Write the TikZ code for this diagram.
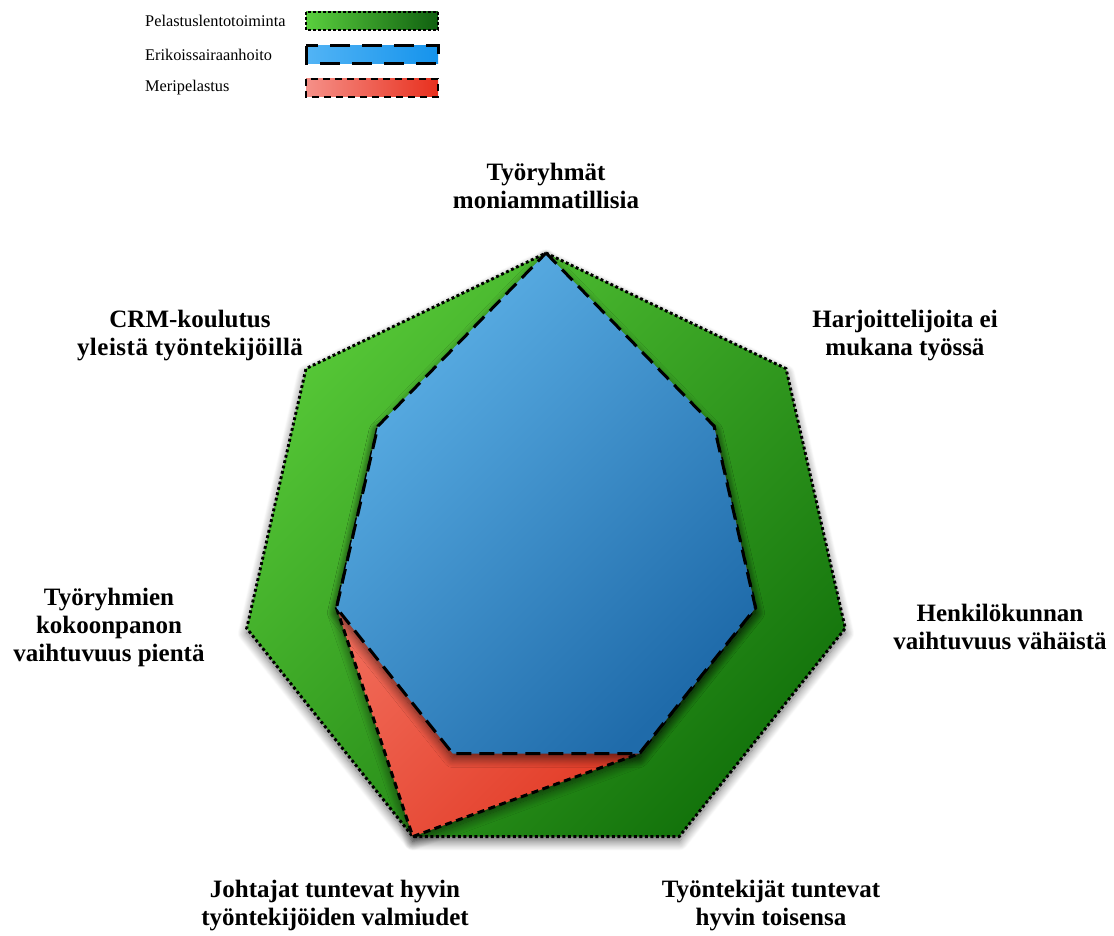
\documentclass[tikz,border=0pt]{standalone}
\usepackage{fontspec}
\setmainfont{Liberation Serif}
\usetikzlibrary{shadows.blur,calc}
\definecolor{gLight}{HTML}{55C636}
\definecolor{gDark}{HTML}{14740C}
\definecolor{bLight}{HTML}{5CB0E6}
\definecolor{bDark}{HTML}{1F6BAA}
\definecolor{rLight}{HTML}{F7806F}
\definecolor{rDark}{HTML}{E0341F}
\definecolor{lgLight}{HTML}{5ACF3E}
\definecolor{lgDark}{HTML}{106010}
\definecolor{lbLight}{HTML}{52B4F5}
\definecolor{lbDark}{HTML}{1593EC}
\definecolor{lrLight}{HTML}{F59088}
\definecolor{lrDark}{HTML}{E8301E}
\begin{document}
\begin{tikzpicture}[x=1pt,y=1pt,
  lbl/.style={font=\fontsize{25}{28}\selectfont\bfseries, align=center, inner sep=0pt},
  legtxt/.style={font=\fontsize{16.3}{19}\selectfont, anchor=west, inner sep=0pt},
  dotline/.style={draw=black, line width=2.9pt, dash pattern=on 2.9pt off 2.6pt},
  longdash/.style={draw=black, line width=3pt, dash pattern=on 15pt off 8pt},
  shortdash/.style={draw=black, line width=3pt, dash pattern=on 7pt off 4.5pt},
  shad/.style={blur shadow={shadow xshift=0pt, shadow yshift=-5pt, shadow blur radius=9pt, shadow opacity=60, shadow blur steps=12}},
  greenfill/.style={top color=gLight, bottom color=gDark, shading angle=45},
  bluefill/.style={top color=bLight, bottom color=bDark, shading angle=45},
  redfill/.style={top color=rLight, bottom color=rDark, shading angle=45},
]
\useasboundingbox (0,0) rectangle (1114,-936);
\coordinate (c) at (546,-560);
% vertices
\foreach \i in {0,...,6} {
  \coordinate (g\i) at ($(c)+({90-\i*360/7}:307)$);
  \coordinate (b\i) at ($(c)+({90-\i*360/7}:0.7*307)$);
  \coordinate (r\i) at ($(c)+({90-\i*360/7}:0.7*307)$);
}
\coordinate (b0) at (g0);
\coordinate (r4) at (g4);
% polygons
\path[greenfill, shad, dotline] (g0) -- (g1) -- (g2) -- (g3) -- (g4) -- (g5) -- (g6) -- cycle;
\path[redfill, shad, shortdash] (r0) -- (r1) -- (r2) -- (r3) -- (r4) -- (r5) -- (r6) -- cycle;
\path[bluefill, shad, longdash] (b0) -- (b1) -- (b2) -- (b3) -- (b4) -- (b5) -- (b6) -- cycle;
% axis labels
\node[lbl] (l0) at (546,-186) {Työryhmät\\moniammatillisia};
\node[lbl] (l1) at (905,-336) {Harjoittelijoita ei\\mukana työssä};
\node[lbl] (l2) at (1000,-627) {Henkilökunnan\\vaihtuvuus vähäistä};
\node[lbl] (l3) at (771,-906) {Työntekijät tuntevat\\hyvin toisensa};
\node[lbl] (l4) at (335,-906) {Johtajat tuntevat hyvin\\työntekijöiden valmiudet};
\node[lbl] (l5) at (109,-627) {Työryhmien\\kokoonpanon\\vaihtuvuus pientä};
\node[lbl] (l6) at (190,-336) {CRM-koulutus\\{\addfontfeature{LetterSpace=2}yleistä työntekijöillä}};
% legend
\node[legtxt] (t1) at (145,-21) {Pelastuslentotoiminta};
\node[legtxt] (t2) at (145,-55) {Erikoissairaanhoito};
\node[legtxt] (t3) at (145,-88) {Meripelastus};
\path[left color=lgLight, right color=lgDark, draw=black, line width=2.6pt, dash pattern=on 2.6pt off 2.4pt] (306,-12) rectangle (438,-30);
\path[left color=lbLight, right color=lbDark, draw=black, line width=3pt, dash pattern=on 20pt off 12pt] (306,-46) rectangle (438,-64);
\path[left color=lrLight, right color=lrDark, draw=black, line width=2.6pt, dash pattern=on 7pt off 5pt] (306,-79) rectangle (438,-97);
\end{tikzpicture}
\end{document}
